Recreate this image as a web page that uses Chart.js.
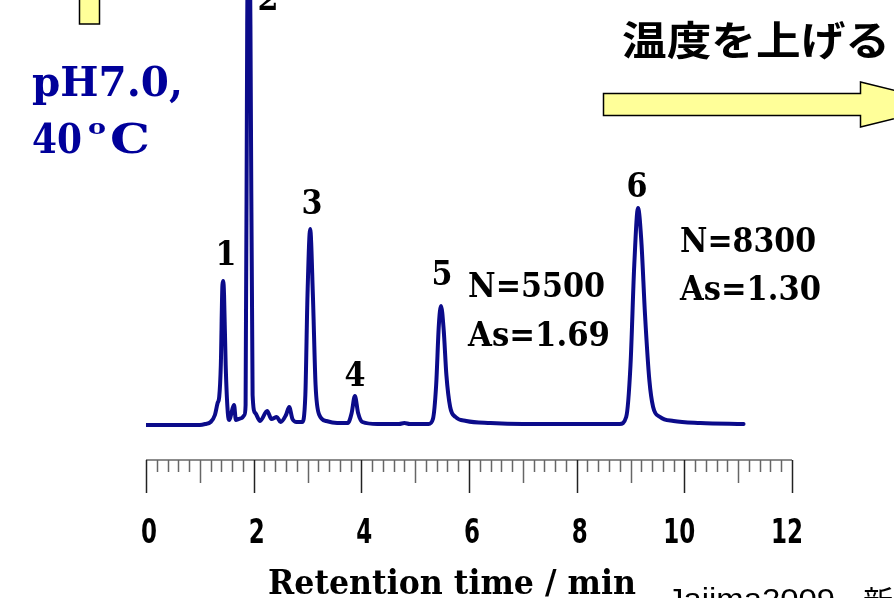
<!DOCTYPE html>
<html lang="ja">
<head>
<meta charset="UTF-8">
<title>Chromatogram pH7.0 40 ºC</title>
<script src="https://cdn.jsdelivr.net/npm/chart.js"></script>
<style>
  html, body { margin: 0; padding: 0; background: #fff; overflow: hidden; }
</style>
</head>
<body>
<canvas id="chart" width="894" height="598"></canvas>
<script>
// retention time (min) and detector signal
const times = [0.0, 1.0, 1.10, 1.20, 1.28, 1.33, 1.36, 1.39, 1.42, 1.435, 1.45, 1.48, 1.52, 1.55,
  1.60, 1.635, 1.67, 1.72, 1.78, 1.83, 1.85, 1.88, 1.91, 1.94, 1.98, 2.03, 2.12, 2.25, 2.33,
  2.43, 2.50, 2.60, 2.66, 2.72, 2.80, 2.90, 2.96, 3.00, 3.05, 3.10, 3.15, 3.22, 3.35, 3.55,
  3.75, 3.82, 3.88, 3.94, 4.02, 4.3, 4.7, 4.8, 4.9, 5.25, 5.33, 5.39, 5.44, 5.48, 5.53, 5.58,
  5.65, 5.75, 5.95, 6.4, 7.0, 8.0, 8.80, 8.92, 9.00, 9.07, 9.14, 9.20, 9.27, 9.35, 9.42,
  9.55, 9.8, 10.3, 11.1];
const signal = [0, 0, 1, 3, 10, 22, 28, 60, 140, 144, 130, 60, 12, 5,
  15, 20, 5, 6, 7, 10, 20, 400, 560, 400, 30, 12, 4, 14, 6,
  8, 3, 10, 18, 6, 3, 3, 30, 130, 196, 130, 40, 10, 4, 2,
  2, 12, 29, 12, 3, 1, 1, 2, 1, 1, 6, 40, 100, 119, 95, 50,
  18, 8, 4, 2, 1, 1, 1, 8, 60, 160, 217, 185, 110, 45, 18,
  8, 4, 2, 1];

const tickLabels = ['0', '2', '4', '6', '8', '10', '12'];
const peakNames = ['1', '2', '3', '4', '5', '6'];
const peakLabelTimes = [1.486, 2.266, 3.084, 3.883, 5.499, 9.121];
const peakLabelLevels = [160, 415, 211, 39, 140, 228];
const plateNotes = ['N=5500', 'As=1.69', 'N=8300', 'As=1.30'];

const lineColor = '#0b0b8a';
const serifBold = 'bold 34px "DejaVu Serif", "Liberation Serif", serif';

function fitText(ctx, text, x, y, w, align) {
  const m = ctx.measureText(text).width;
  ctx.save();
  ctx.translate(x, y);
  ctx.scale(w / m, 1);
  ctx.textAlign = 'left';
  ctx.fillText(text, align === 'center' ? -m / 2 : 0, 0);
  ctx.restore();
}

const decorations = {
  id: 'decorations',
  afterDraw(chart) {
    const ctx = chart.ctx;
    const xs = chart.scales.x, ys = chart.scales.y;
    const axisY = ys.getPixelForValue(-35);
    ctx.save();

    // axis with ruler ticks
    ctx.strokeStyle = '#666';
    ctx.lineWidth = 1.5;
    ctx.beginPath();
    ctx.moveTo(xs.getPixelForValue(0), axisY);
    ctx.lineTo(xs.getPixelForValue(12), axisY);
    ctx.stroke();
    for (let i = 0; i <= 60; i++) {
      const v = i * 0.2;
      const px = Math.round(xs.getPixelForValue(v)) + 0.5;
      let len = 12;
      if (i % 10 === 0) len = 33;
      else if (i % 5 === 0) len = 23;
      ctx.strokeStyle = len === 33 ? '#222' : '#666';
      ctx.beginPath();
      ctx.moveTo(px, axisY);
      ctx.lineTo(px, axisY + len);
      ctx.stroke();
    }

    ctx.fillStyle = '#000';
    ctx.textBaseline = 'alphabetic';
    ctx.font = 'bold 33px "DejaVu Sans Condensed", "Liberation Sans Narrow", sans-serif';
    tickLabels.forEach((t, i) => {
      const px = xs.getPixelForValue(i * 2);
      const w = t.length === 1 ? 16 : 32;
      fitText(ctx, t, px + (t.length === 1 ? 3 : -5), 543, w, 'center');
    });

    ctx.font = serifBold;
    fitText(ctx, 'Retention time / min', 268, 594, 368);

    // peak numbers
    peakNames.forEach((n, i) => {
      fitText(ctx, n, xs.getPixelForValue(peakLabelTimes[i]), ys.getPixelForValue(peakLabelLevels[i]), 21, 'center');
    });

    // plate number / asymmetry notes
    fitText(ctx, plateNotes[0], xs.getPixelForValue(5.982), ys.getPixelForValue(128), 137);
    fitText(ctx, plateNotes[1], xs.getPixelForValue(5.982), ys.getPixelForValue(79), 142);
    fitText(ctx, plateNotes[2], xs.getPixelForValue(9.92), ys.getPixelForValue(173), 136);
    fitText(ctx, plateNotes[3], xs.getPixelForValue(9.92), ys.getPixelForValue(125), 141);

    // conditions
    ctx.fillStyle = '#00009a';
    ctx.font = 'bold 41px "DejaVu Serif", "Liberation Serif", serif';
    fitText(ctx, 'pH7.0,', 32, 96, 151);
    fitText(ctx, '40', 32, 153, 50);
    fitText(ctx, 'C', 110, 153, 40);
    ctx.font = 'bold 21px "DejaVu Serif", "Liberation Serif", serif';
    fitText(ctx, 'o', 88, 134, 18);

    // arrows
    ctx.fillStyle = '#ffff99';
    ctx.strokeStyle = '#000';
    ctx.lineWidth = 1.5;
    ctx.beginPath();
    ctx.rect(79.5, -3, 20, 27);
    ctx.fill();
    ctx.stroke();
    ctx.beginPath();
    ctx.moveTo(603.5, 93.5);
    ctx.lineTo(860.5, 93.5);
    ctx.lineTo(860.5, 82);
    ctx.lineTo(952, 104.5);
    ctx.lineTo(860.5, 127);
    ctx.lineTo(860.5, 115.5);
    ctx.lineTo(603.5, 115.5);
    ctx.closePath();
    ctx.fill();
    ctx.stroke();

    ctx.fillStyle = '#000';
    ctx.font = 'bold 40px "Noto Sans CJK JP", sans-serif';
    ctx.textBaseline = 'middle';
    fitText(ctx, '温度を上げる', 622, 40, 268);

    ctx.textBaseline = 'alphabetic';
    ctx.font = '30px "Liberation Sans", sans-serif';
    fitText(ctx, 'Jajima2009', 667, 609, 168);
    ctx.font = '30px "Noto Sans CJK JP", sans-serif';
    ctx.fillText('新', 863, 612);
    ctx.restore();
  }
};

new Chart(document.getElementById('chart'), {
  type: 'line',
  data: {
    datasets: [{
      data: times.map((t, i) => ({ x: t, y: signal[i] })),
      borderColor: lineColor,
      borderWidth: 4,
      pointRadius: 0,
      fill: false,
      cubicInterpolationMode: 'monotone',
      borderJoinStyle: 'round',
      borderCapStyle: 'round'
    }]
  },
  options: {
    responsive: false,
    animation: false,
    devicePixelRatio: 1,
    layout: { padding: { left: 146, right: 102, top: 0, bottom: 138 } },
    scales: {
      x: { type: 'linear', min: 0, max: 12, display: false },
      y: { min: -35, max: 425, display: false }
    },
    plugins: { legend: { display: false }, tooltip: { enabled: false } }
  },
  plugins: [decorations]
});
</script>
</body>
</html>
